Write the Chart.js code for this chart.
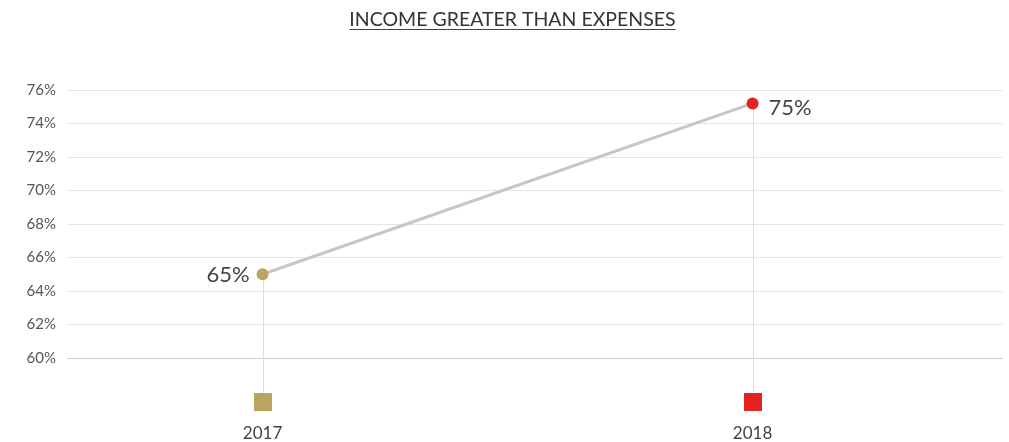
<!DOCTYPE html>
<html><head><meta charset="utf-8">
<script src="https://cdn.jsdelivr.net/npm/chart.js@4"></script>
<style>html,body{margin:0;padding:0;background:#fff}#wrap{width:1009px;height:442px}</style>
</head><body><div id="wrap"><canvas id="c" width="1009" height="442"></canvas></div>
<script>
const chartTitle = 'INCOME GREATER THAN EXPENSES';
const categories = ['2017', '2018'];
const values = [65, 75.2];
const pointColors = ['#b9a462', '#e42320'];
const yMin = 60, yMax = 76, yStep = 2;

const FONT = 'Lato, "Noto Sans", sans-serif';
const TITLE_SIZE = 19.5;

const decor = {
  id: 'decor',
  beforeDatasetsDraw(chart) {
    const ctx = chart.ctx;
    const meta = chart.getDatasetMeta(0);
    const bottom = chart.chartArea.bottom;
    ctx.save();
    meta.data.forEach((pt, i) => {
      const sqTop = bottom + 35, size = 18;
      ctx.strokeStyle = '#dcdcdc';
      ctx.lineWidth = 1;
      ctx.beginPath();
      ctx.moveTo(Math.round(pt.x) + 0.5, pt.y);
      ctx.lineTo(Math.round(pt.x) + 0.5, sqTop);
      ctx.stroke();
      ctx.fillStyle = pointColors[i];
      ctx.fillRect(Math.round(pt.x) - size / 2, sqTop, size, size);
    });
    ctx.restore();
  },
  afterDatasetsDraw(chart) {
    const ctx = chart.ctx;
    const meta = chart.getDatasetMeta(0);
    ctx.save();
    ctx.font = '22px ' + FONT;
    ctx.fillStyle = '#444';
    ctx.textBaseline = 'middle';
    meta.data.forEach((pt, i) => {
      const txt = Math.round(values[i]) + '%';
      if (i === 0) { ctx.textAlign = 'right'; ctx.fillText(txt, pt.x - 13, pt.y + 1); }
      else { ctx.textAlign = 'left'; ctx.fillText(txt, pt.x + 16, pt.y + 5); }
    });
    ctx.restore();
  },
  afterDraw(chart) {
    const tb = chart.titleBlock;
    if (!tb) return;
    const ctx = chart.ctx;
    ctx.save();
    ctx.font = TITLE_SIZE + 'px ' + FONT;
    const w = ctx.measureText(chartTitle).width;
    const cx = (tb.left + tb.right) / 2;
    ctx.strokeStyle = '#444';
    ctx.lineWidth = 1;
    ctx.beginPath();
    ctx.moveTo(cx - w / 2, 29.5);
    ctx.lineTo(cx + w / 2, 29.5);
    ctx.stroke();
    ctx.restore();
  }
};

new Chart(document.getElementById('c'), {
  type: 'line',
  data: {
    datasets: [{
      data: values.map((v, i) => ({ x: i, y: v })),
      borderColor: '#c6c6c6',
      borderWidth: 3,
      pointRadius: 6,
      pointHoverRadius: 6,
      pointBorderWidth: 0,
      pointBackgroundColor: pointColors,
      pointBorderColor: pointColors,
      tension: 0
    }]
  },
  options: {
    responsive: false,
    animation: false,
    devicePixelRatio: 1,
    layout: { padding: { left: 20, right: 4, top: 0, bottom: 0 } },
    plugins: {
      legend: { display: false },
      tooltip: { enabled: false },
      title: {
        display: true,
        text: chartTitle,
        color: '#333',
        font: { family: FONT, size: TITLE_SIZE, weight: 'normal', lineHeight: 1.2 },
        padding: { top: 8, bottom: 58.6 }
      }
    },
    scales: {
      x: {
        type: 'linear',
        min: -0.399,
        max: 1.511,
        afterBuildTicks(axis) { axis.ticks = categories.map((c, i) => ({ value: i })); },
        afterFit(scale) { scale.height = 84; },
        grid: { display: false, drawTicks: false },
        border: { display: false },
        ticks: {
          padding: 67,
          maxRotation: 0,
          color: '#444',
          font: { family: FONT, size: 17, lineHeight: 1 },
          callback: (v) => categories[v] ?? ''
        }
      },
      y: {
        min: yMin,
        max: yMax,
        afterFit(scale) { scale.width = 47; },
        border: { display: false },
        grid: {
          drawTicks: false,
          color: (c) => c.tick && c.tick.value === yMin ? '#cfcfcf' : '#e6e6e6',
          lineWidth: 1
        },
        ticks: {
          stepSize: yStep,
          padding: 11,
          color: '#555',
          font: { family: FONT, size: 15 },
          callback: (v) => v + '%'
        }
      }
    }
  },
  plugins: [decor]
});
</script>
</body></html>
